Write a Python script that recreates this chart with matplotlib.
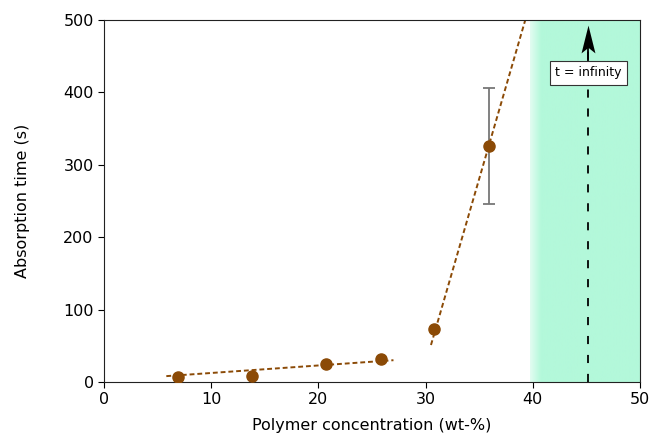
import numpy as np
import matplotlib
matplotlib.use('Agg')
import matplotlib.pyplot as plt
from matplotlib.colors import LinearSegmentedColormap
from matplotlib.path import Path

# measured data
conc = [6.9, 13.8, 20.7, 25.8, 30.8, 35.9]
abs_time = [7, 8, 25, 32, 73, 326]
abs_err = [0, 0, 0, 0, 0, 80]

# trend lines (end points)
fit1_x = [5.8, 27.0]
fit1_y = [8, 30]
fit2_x = [30.5, 39.3]
fit2_y = [51, 500]

# region where the absorption time is infinite
inf_start = 39.7
inf_end = 50
inf_x = 45.2

brown = '#8b4a06'

plt.rcParams['font.family'] = ['DejaVu Sans']
fig = plt.figure(figsize=(6.51, 4.34), dpi=100)
ax = fig.add_axes([0.16, 0.12, 0.823, 0.834])

# shaded region with a soft left edge
cmap = LinearSegmentedColormap.from_list('inf', ['#e2fcf1', '#b3f8da', '#b3f8da'])
grad = np.linspace(0, 1, 200).reshape(1, -1)
grad = np.clip(grad * 5, 0, 1)
ax.imshow(grad, extent=[inf_start, inf_end, 0, 500], aspect='auto', cmap=cmap,
          origin='lower', zorder=0)

ax.plot(fit1_x, fit1_y, '--', color=brown, lw=1.4, dashes=(2.5, 1.5), zorder=2)
ax.plot(fit2_x, fit2_y, '--', color=brown, lw=1.4, dashes=(2.5, 1.5), zorder=2)

ax.errorbar(conc[-1:], abs_time[-1:], yerr=abs_err[-1:], fmt='none', ecolor='#777777',
            elinewidth=1.3, capsize=4, capthick=1.3, zorder=1)
ax.plot(conc, abs_time, 'o', color=brown, ms=8, zorder=3)

# dashed "infinity" line with a stealth-like arrowhead
ax.plot([inf_x, inf_x], [0, 460], '--', color='black', lw=1.3, dashes=(4.5, 6), zorder=2)
ax.plot([inf_x, inf_x], [440, 470], '-', color='black', lw=1.3, zorder=2)
head = Path([(0, 1), (-0.5, -1), (0, -0.6), (0.5, -1), (0, 1)],
            [Path.MOVETO, Path.LINETO, Path.LINETO, Path.LINETO, Path.CLOSEPOLY])
ax.plot([inf_x], [474], marker=head, ms=20, color='black', mew=0, zorder=4)
ax.text(inf_x, 427, 't = infinity', ha='center', va='center', fontsize=9, zorder=5,
        bbox=dict(boxstyle='square,pad=0.45', fc='white', ec='#333333', lw=0.8))

ax.set_xlim(0, 50)
ax.set_ylim(0, 500)
ax.set_xticks([0, 10, 20, 30, 40, 50])
ax.set_yticks([0, 100, 200, 300, 400, 500])
ax.tick_params(labelsize=11.5, direction='out', length=4)
ax.set_xlabel('Polymer concentration (wt-%)', fontsize=11.5, labelpad=8)
ax.set_ylabel('Absorption time (s)', fontsize=11.5, labelpad=24)
for s in ax.spines.values():
    s.set_color('#222222')

fig.savefig('out.png', dpi=100)
